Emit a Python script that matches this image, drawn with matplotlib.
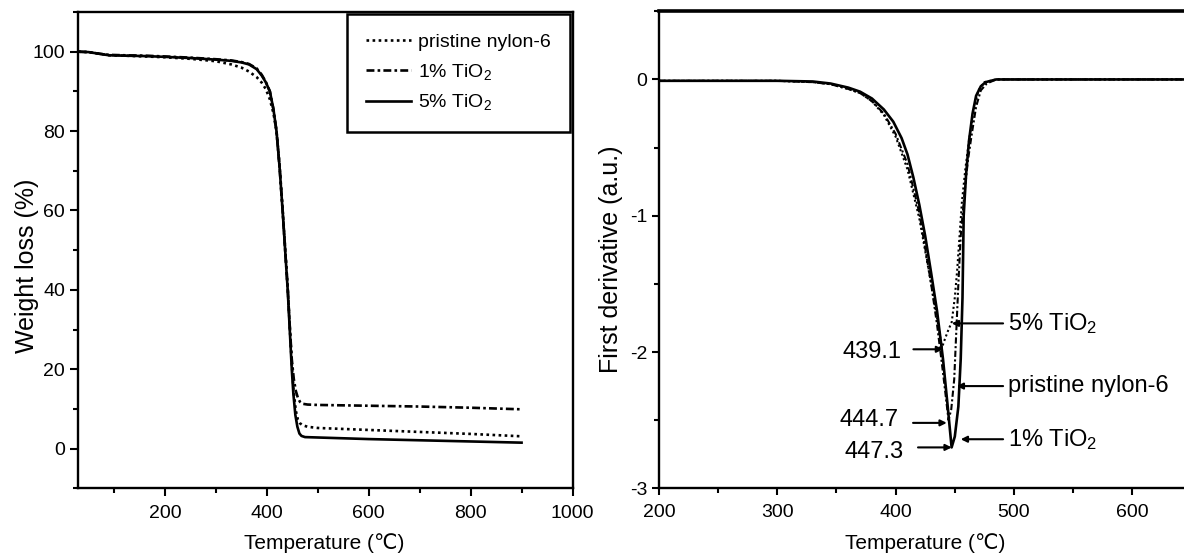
import matplotlib
matplotlib.use("Agg")
import matplotlib.pyplot as plt
from matplotlib.ticker import MultipleLocator
from matplotlib.lines import Line2D

# ---------------- data: TGA (left) ----------------
tga_T_5 = [30, 50, 70, 90, 120, 160, 200, 250, 300, 330, 350, 365, 380, 390, 398, 406, 413, 419,
           425, 431, 436, 441, 445, 449, 452, 456, 460, 464, 468, 475, 500, 600, 700, 800, 900]
tga_W_5 = [100, 99.9, 99.5, 99.1, 99.0, 98.9, 98.7, 98.4, 98.0, 97.7, 97.3, 96.8, 95.6, 94.0, 92.3, 90, 85.5, 80,
           71, 60, 50, 40, 30, 20, 14, 8.5, 5.5, 3.8, 3.2, 2.9, 2.8, 2.4, 2.1, 1.8, 1.5]

tga_T_1 = [30, 50, 70, 90, 120, 160, 200, 250, 300, 330, 350, 365, 380, 390, 398, 406, 413, 419,
           425, 431, 436, 441, 445, 449, 453, 457, 461, 465, 470, 480, 500, 600, 700, 800, 900]
tga_W_1 = [100, 99.9, 99.5, 99.2, 99.1, 99.0, 98.8, 98.5, 98.1, 97.8, 97.4, 96.9, 95.8, 94.2, 92.4, 90, 85.5, 80,
           71, 60, 50, 40.5, 31, 22.5, 17.5, 14.5, 12.8, 11.8, 11.3, 11.1, 11.0, 10.8, 10.6, 10.3, 9.9]

tga_T_p = [30, 50, 70, 90, 120, 160, 200, 250, 300, 330, 350, 365, 380, 390, 398, 406, 413, 419,
           425, 431, 436, 441, 445, 449, 453, 457, 461, 465, 470, 480, 500, 600, 700, 800, 900]
tga_W_p = [100, 99.9, 99.5, 99.1, 99.0, 98.8, 98.6, 98.2, 97.6, 96.8, 96.0, 95.0, 93.6, 92.2, 90.6, 88, 84.5, 80,
           71.5, 60.5, 50.5, 40.5, 31, 21.5, 14, 9.5, 7.3, 6.4, 5.9, 5.5, 5.2, 4.7, 4.2, 3.7, 3.1]

# ---------------- data: DTG (right) ----------------
dtg_T_1 = [200, 300, 330, 345, 360, 370, 380, 390, 398, 405, 410, 415, 420, 425, 430, 435, 440, 444, 447.3,
           450, 453, 455, 456.5, 457.5, 459.5, 462, 465, 468, 472, 476, 485, 650]
dtg_D_1 = [-0.01, -0.01, -0.015, -0.03, -0.06, -0.09, -0.14, -0.22, -0.31, -0.43, -0.55, -0.72, -0.92, -1.15,
           -1.42, -1.70, -2.05, -2.40, -2.70, -2.62, -2.40, -2.05, -1.6, -1.0, -0.7, -0.45, -0.25, -0.12,
           -0.05, -0.02, 0.0, 0.0]

dtg_T_p = [200, 300, 330, 345, 360, 370, 380, 390, 400, 410, 420, 430, 435, 440, 444.7,
           447, 449.5, 451, 453, 455, 458, 461, 464, 468, 472, 477, 485, 650]
dtg_D_p = [-0.01, -0.01, -0.02, -0.035, -0.07, -0.10, -0.16, -0.25, -0.40, -0.62, -0.98, -1.50, -1.80, -2.15, -2.50,
           -2.42, -2.2, -1.9, -1.5, -1.15, -0.85, -0.6, -0.42, -0.2, -0.08, -0.03, 0.0, 0.0]

dtg_T_5 = [200, 300, 330, 345, 360, 370, 380, 390, 400, 410, 420, 430, 435, 439.1,
           441, 444, 447.4, 450, 452, 454, 456, 459, 462, 466, 470, 475, 485, 650]
dtg_D_5 = [-0.01, -0.01, -0.02, -0.035, -0.07, -0.10, -0.16, -0.26, -0.42, -0.66, -1.02, -1.50, -1.75, -1.97,
           -1.92, -1.85, -1.78, -1.6, -1.4, -1.15, -0.9, -0.65, -0.45, -0.22, -0.08, -0.02, 0.0, 0.0]

labels = ["pristine nylon-6", "1% TiO$_2$", "5% TiO$_2$"]
peak_labels = ["439.1", "444.7", "447.3"]
series_order = ["5% TiO$_2$", "pristine nylon-6", "1% TiO$_2$"]

# ---------------- style ----------------
plt.rcParams['font.family'] = ['Liberation Sans', 'DejaVu Sans']
plt.rcParams['mathtext.fontset'] = 'custom'
plt.rcParams['mathtext.rm'] = 'Liberation Sans'
plt.rcParams['mathtext.it'] = 'Liberation Sans'
plt.rcParams['axes.unicode_minus'] = False

W, H = 1184, 555
fig = plt.figure(figsize=(W / 100, H / 100), dpi=100)

axL = fig.add_axes([78.3 / W, 1 - 488.3 / H, (572.5 - 78.3) / W, (488.3 - 12) / H])
axR = fig.add_axes([659 / W, 1 - 488.3 / H, (1184 - 659) / W, (488.3 - 11.3) / H])

lw = 1.9
dotted = (0, (1, 1.3))
dashdot = (0, (3, 1.2, 1, 1.2))

# left panel
axL.plot(tga_T_p, tga_W_p, color='black', lw=lw, linestyle=dotted)
axL.plot(tga_T_1, tga_W_1, color='black', lw=lw, linestyle=dashdot)
axL.plot(tga_T_5, tga_W_5, color='black', lw=lw, linestyle='-')
axL.set_xlim(30, 1000)
axL.set_ylim(-10, 110)
axL.xaxis.set_major_locator(MultipleLocator(200))
axL.xaxis.set_minor_locator(MultipleLocator(100))
axL.yaxis.set_major_locator(MultipleLocator(20))
axL.yaxis.set_minor_locator(MultipleLocator(10))
for s in ['left', 'bottom', 'top', 'right']:
    axL.spines[s].set_linewidth(1.7)
axL.tick_params(which='both', direction='out', width=1.5, labelsize=14, top=False, right=False)
axL.tick_params(which='major', length=6)
axL.tick_params(which='minor', length=3.5)
axL.tick_params(axis='x', which='major', pad=6)
axL.set_xlabel('Temperature (\u2103)', fontsize=15)
axL.set_ylabel('Weight loss (%)', fontsize=18)
axL.xaxis.set_label_coords(0.497, -0.115)
axL.xaxis.label.set_va('center')
axL.yaxis.set_label_coords(-0.104, 0.467)
axL.yaxis.label.set_va('center')

handles = [Line2D([], [], color='black', lw=lw, linestyle=dotted),
           Line2D([], [], color='black', lw=lw, linestyle=dashdot),
           Line2D([], [], color='black', lw=lw, linestyle='-')]
leg = axL.legend(handles, labels, loc='upper right', bbox_to_anchor=(0.995, 0.996),
                 borderaxespad=0, fancybox=False, edgecolor='black', framealpha=1,
                 prop={'size': 14}, handlelength=2.3, handletextpad=0.35,
                 labelspacing=0.55, borderpad=1.0)
leg.get_frame().set_linewidth(1.8)

# right panel
axR.plot(dtg_T_5, dtg_D_5, color='black', lw=1.5, linestyle=dotted)
axR.plot(dtg_T_p, dtg_D_p, color='black', lw=1.5, linestyle=dashdot)
axR.plot(dtg_T_1, dtg_D_1, color='black', lw=1.9, linestyle='-')
axR.set_xlim(200, 643.7)
axR.set_ylim(-3, 0.5)
axR.xaxis.set_major_locator(MultipleLocator(100))
axR.xaxis.set_minor_locator(MultipleLocator(50))
axR.yaxis.set_major_locator(MultipleLocator(1))
axR.yaxis.set_minor_locator(MultipleLocator(0.5))
axR.spines['right'].set_visible(False)
axR.spines['top'].set_linewidth(2.6)
axR.spines['left'].set_linewidth(1.7)
axR.spines['bottom'].set_linewidth(1.7)
axR.tick_params(which='both', direction='out', width=1.5, labelsize=14, top=False, right=False)
axR.tick_params(which='major', length=5)
axR.tick_params(which='minor', length=3.5)
axR.tick_params(axis='x', which='major', pad=6)
axR.set_xlabel('Temperature (\u2103)', fontsize=15)
axR.set_ylabel('First derivative (a.u.)', fontsize=18)
axR.xaxis.set_label_coords(0.507, -0.115)
axR.xaxis.label.set_va('center')
axR.yaxis.set_label_coords(-0.0914, 0.481)
axR.yaxis.label.set_va('center')

arrow = dict(arrowstyle='-|>', lw=1.5, color='black', mutation_scale=9, shrinkA=0, shrinkB=0)
# peak temperature annotations (left side)
peak_text_xy = [(405.2, -2.0), (402.9, -2.50), (407.1, -2.73)]
peak_tail = [(415.0, -1.98), (414.7, -2.52), (418.9, -2.70)]
peak_head = [(440.1, -1.98), (443.2, -2.52), (447.4, -2.70)]
for lab, txy, tl, hd in zip(peak_labels, peak_text_xy, peak_tail, peak_head):
    axR.text(txy[0], txy[1], lab, ha='right', va='center', fontsize=17)
    axR.annotate('', xy=hd, xytext=tl, arrowprops=arrow)

# series labels (right side)
ser_y = [-1.79, -2.25, -2.64]
ser_head_x = [447.4, 451.6, 455.0]
for lab, y, hx in zip(series_order, ser_y, ser_head_x):
    axR.text(495.3, y, lab, ha='left', va='center', fontsize=17)
    axR.annotate('', xy=(hx, y), xytext=(490.8, y), arrowprops=arrow)

fig.savefig('out.png', dpi=100)
